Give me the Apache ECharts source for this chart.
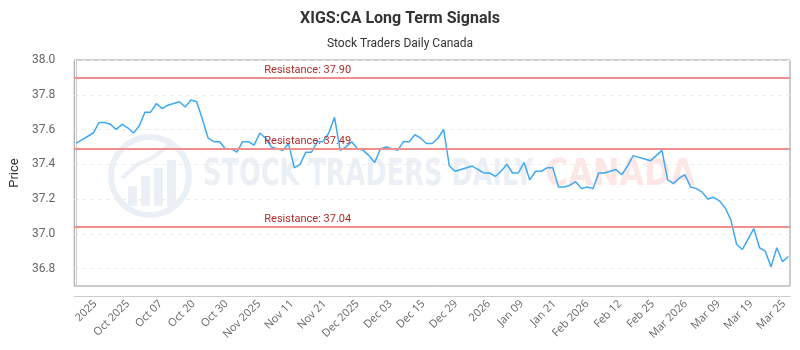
<!DOCTYPE html>
<html><head><meta charset="utf-8">
<script src="https://cdn.jsdelivr.net/npm/echarts@6/dist/echarts.min.js"></script>
<style>html,body{margin:0;padding:0;background:#fff}#c{width:800px;height:350px}</style>
</head><body><div id="c"></div>
<script>
const titleText = 'XIGS:CA Long Term Signals';
const subtitleText = 'Stock Traders Daily Canada';
const yAxisName = 'Price';
const prices = [
  37.52, 37.54, 37.56, 37.58, 37.64, 37.64, 37.63, 37.60, 37.63, 37.61,
  37.58, 37.62, 37.70, 37.70, 37.75, 37.72, 37.74, 37.75, 37.76, 37.73,
  37.77, 37.76, 37.66, 37.55, 37.53, 37.53, 37.49, 37.49, 37.47, 37.53,
  37.53, 37.51, 37.58, 37.55, 37.50, 37.49, 37.48, 37.52, 37.38, 37.40,
  37.47, 37.47, 37.53, 37.53, 37.58, 37.67, 37.48, 37.50, 37.53, 37.49,
  37.48, 37.45, 37.41, 37.49, 37.50, 37.49, 37.48, 37.53, 37.53, 37.57,
  37.55, 37.52, 37.52, 37.55, 37.60, 37.39, 37.36, 37.37, 37.38, 37.39,
  37.37, 37.35, 37.35, 37.33, 37.36, 37.40, 37.35, 37.35, 37.41, 37.31,
  37.36, 37.36, 37.38, 37.38, 37.27, 37.27, 37.28, 37.30, 37.26, 37.27,
  37.26, 37.35, 37.35, 37.36, 37.37, 37.34, 37.39, 37.45, 37.44, 37.43,
  37.42, 37.45, 37.48, 37.31, 37.29, 37.32, 37.34, 37.27, 37.26, 37.24,
  37.20, 37.21, 37.19, 37.15, 37.08, 36.94, 36.91, 36.97, 37.03, 36.92,
  36.90, 36.81, 36.92, 36.84, 36.87
];
const resistanceLevels = [37.90, 37.49, 37.04];
const tickLabels = ['2025','Oct 2025','Oct 07','Oct 20','Oct 30','Nov 2025','Nov 11','Nov 21',
  'Dec 2025','Dec 03','Dec 15','Dec 29','2026','Jan 09','Jan 21','Feb 2026','Feb 12','Feb 25',
  'Mar 2026','Mar 09','Mar 19','Mar 25'];
const yTicks = [36.8, 37.0, 37.2, 37.4, 37.6, 37.8, 38.0];

const chart = echarts.init(document.getElementById('c'), null, {renderer: 'canvas'});
const wmBlue = '#ebf0f6';
const wmFont = 'bold 38px "DejaVu Sans"';
const mctx = document.createElement('canvas').getContext('2d');
mctx.font = wmFont;
const fitScale = (txt, target) => target / mctx.measureText(txt).width;
const wmText1 = 'STOCK TRADERS DAILY';
const wmText2 = 'CANADA';
const option = {
  animation: false,
  backgroundColor: '#fff',
  title: {
    text: titleText, subtext: subtitleText, left: 'center', top: 6, itemGap: 11,
    textStyle: {fontFamily: 'Roboto', fontSize: 16, fontWeight: 'bold', color: '#333'},
    subtextStyle: {fontFamily: 'Roboto', fontSize: 12, color: '#333'}
  },
  grid: {left: 70, right: 10, top: 60, bottom: 64, show: true, borderColor: '#999', borderWidth: 1, backgroundColor: 'transparent'},
  graphic: [
    {type: 'circle', shape: {cx: 150, cy: 176, r: 39}, style: {fill: 'rgba(0,0,0,0)', stroke: wmBlue, lineWidth: 6}, z: -5, silent: true},
    {type: 'rect', shape: {x: 128, y: 186, width: 9, height: 20}, style: {fill: wmBlue}, z: -5, silent: true},
    {type: 'rect', shape: {x: 141, y: 176, width: 9, height: 30}, style: {fill: wmBlue}, z: -5, silent: true},
    {type: 'rect', shape: {x: 154, y: 168, width: 9, height: 38}, style: {fill: wmBlue}, z: -5, silent: true},
    {type: 'rect', shape: {x: 167, y: 160, width: 9, height: 46}, style: {fill: wmBlue}, z: -5, silent: true},
    {type: 'polyline', shape: {points: [[122, 178], [138, 164], [152, 158], [168, 146], [180, 150]]}, style: {stroke: wmBlue, lineWidth: 4, fill: null}, z: -5, silent: true},
    {type: 'text', x: 203, y: 156, scaleX: fitScale(wmText1, 330), style: {text: wmText1, font: wmFont, fill: wmBlue}, z: -5, silent: true},
    {type: 'text', x: 545, y: 156, scaleX: fitScale(wmText2, 150), style: {text: wmText2, font: wmFont, fill: '#fde6e6'}, z: -5, silent: true}
  ],
  xAxis: [
    {type: 'value', min: -0.3, max: prices.length - 1 + 0.3, show: false},
    {type: 'value', position: 'bottom', offset: 10, min: -0.6364, max: 21.182,
      axisLine: {show: true, lineStyle: {color: '#ccc'}},
      axisTick: {show: false, customValues: tickLabels.map((_, i) => i)},
      splitLine: {show: false},
      axisLabel: {customValues: tickLabels.map((_, i) => i), rotate: 45, margin: 6,
        fontFamily: 'Open Sans', fontSize: 11, color: '#666',
        formatter: v => tickLabels[Math.round(v)] ?? ''}
    }
  ],
  yAxis: {
    type: 'value', min: 36.7, max: 38.0, offset: 10,
    name: yAxisName, nameLocation: 'middle', nameGap: 40,
    nameTextStyle: {fontFamily: 'Roboto', fontSize: 13, color: '#333'},
    axisLine: {show: true, lineStyle: {color: '#ccc'}},
    axisTick: {show: false, customValues: yTicks},
    axisLabel: {customValues: yTicks, margin: 9, fontFamily: 'Roboto', fontSize: 12, color: '#666', formatter: v => v.toFixed(1)},
    splitLine: {show: true, lineStyle: {color: '#ebebeb', type: [4, 4], width: 1}}
  },
  series: [{
    type: 'line', xAxisIndex: 0,
    data: prices.map((p, i) => [i, p]),
    showSymbol: false, symbol: 'none',
    lineStyle: {color: '#3fa9f5', width: 1.5},
    itemStyle: {color: '#3fa9f5'},
    z: 3,
    markLine: {
      silent: true, symbol: 'none',
      lineStyle: {color: '#ee8f8f', width: 2, type: 'solid'},
      label: {position: 'insideStartTop', distance: [190, 2], color: '#b22b2b', fontFamily: 'Roboto', fontSize: 11,
        formatter: p => 'Resistance: ' + p.value.toFixed(2)},
      data: resistanceLevels.map(v => ({yAxis: v}))
    }
  }]
};
chart.setOption(option);
</script></body></html>
